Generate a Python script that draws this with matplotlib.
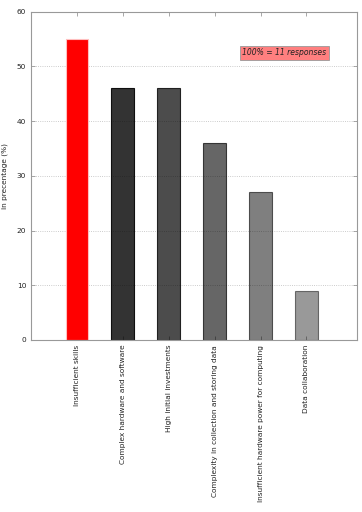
import numpy as np
import matplotlib.pyplot as plt

categories = [
    "Insufficient skills",
    "Complex hardware and software",
    "High initial investments",
    "Complexity in collection and storing data",
    "Insufficient hardware power for computing",
    "Data collaboration",
]
percentages = [55, 46, 46, 36, 27, 9]
n_responses = 11


def main() -> None:
    fig = plt.figure(figsize=(3.62, 5.12), dpi=100)
    ax = fig.add_axes([0.086, 0.336, 0.9, 0.641])

    x = np.arange(len(categories))
    colors = ["red"] + [(0, 0, 0, a) for a in (0.8, 0.7, 0.6, 0.5, 0.4)]
    edges = [(1, 0.75, 0.75)] + [(0, 0, 0, a + 0.1) for a in (0.8, 0.7, 0.6, 0.5, 0.4)]
    ax.bar(x, percentages, width=0.5, color=colors, edgecolor=edges, linewidth=0.8, zorder=2)

    ax.set_xlim(-1, 6.1)
    ax.set_ylim(0, 60)
    ax.set_yticks(np.arange(0, 61, 10))
    ax.set_xticks(x)
    ax.set_xticklabels(categories, rotation=90, fontsize=5.3, color="#222222")
    ax.tick_params(axis="y", labelsize=5.3, labelcolor="#222222")
    ax.tick_params(direction="in", top=True, right=True, length=3, color="#999999", width=0.6)
    ax.set_ylabel("in precentage (%)", fontsize=5.3, labelpad=6, color="#222222")

    ax.grid(axis="y", linestyle=":", color="#bbbbbb", linewidth=0.6, zorder=0)
    for s in ax.spines.values():
        s.set_color("#999999")
        s.set_linewidth(0.8)

    ax.text(4.52, 52.5, f"100% = {n_responses} responses", fontsize=5.5, style="italic",
            ha="center", va="center", color="#222222",
            bbox=dict(facecolor=(1, 0, 0, 0.5), edgecolor="#999999", linewidth=0.6,
                      boxstyle="square,pad=0.35"))

    fig.savefig("out.png", dpi=100)


if __name__ == "__main__":
    main()
